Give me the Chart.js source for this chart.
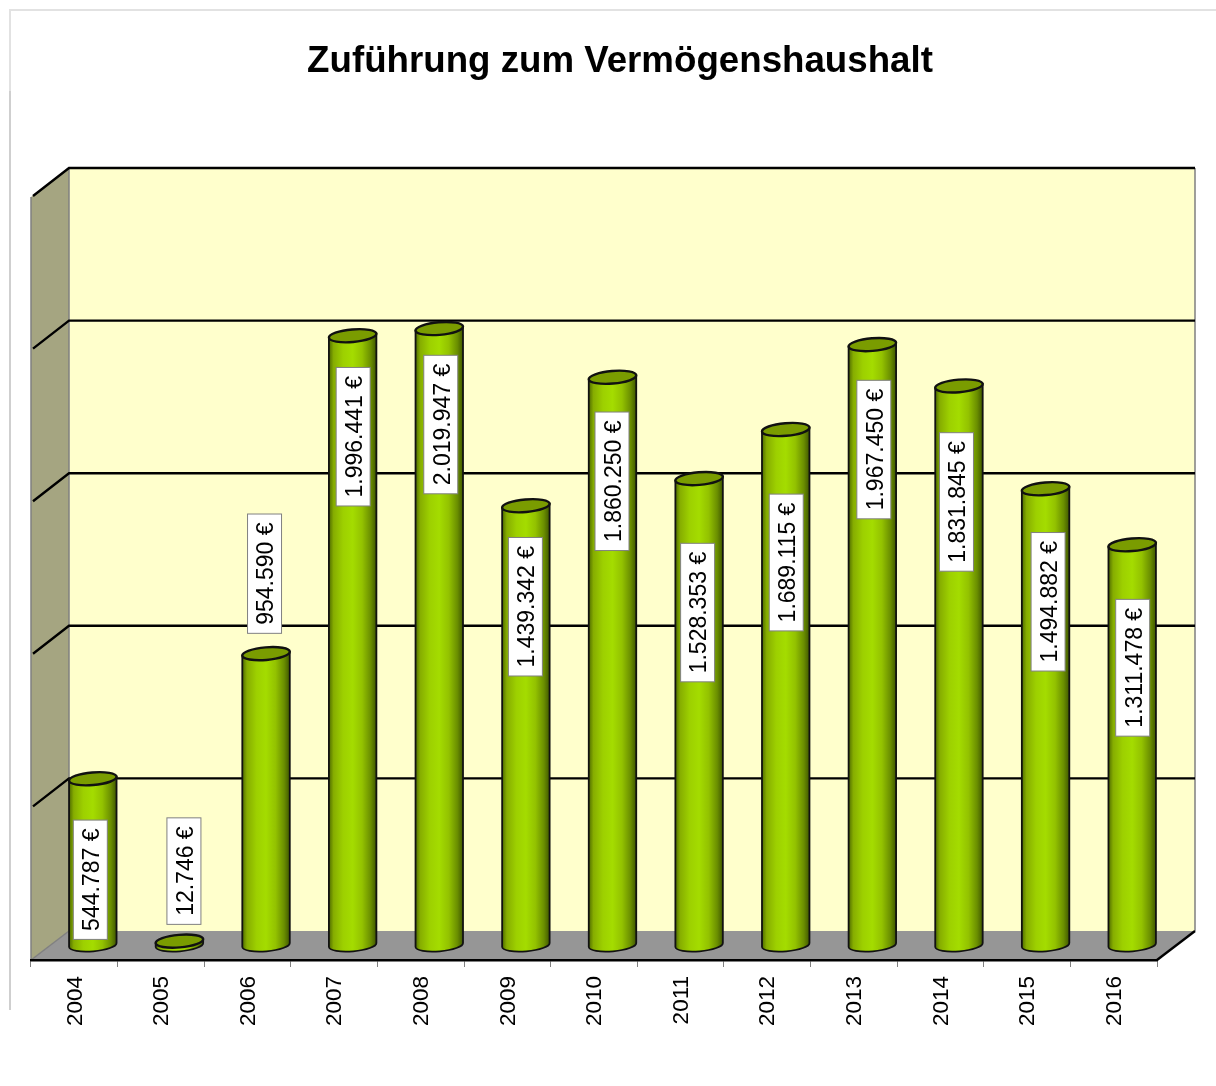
<!DOCTYPE html>
<html lang="de">
<head>
<meta charset="utf-8">
<title>Zuführung zum Vermögenshaushalt</title>
<script src="https://cdn.jsdelivr.net/npm/chart.js@4"></script>
<style>
  html, body { margin: 0; padding: 0; background: #fff; }
  canvas { display: block; }
</style>
</head>
<body>
<canvas id="grafico" width="1216" height="1086"></canvas>
<script>
const years = ["2004", "2005", "2006", "2007", "2008", "2009", "2010", "2011", "2012", "2013", "2014", "2015", "2016"];
const amounts = [544787, 12746, 954590, 1996441, 2019947, 1439342, 1860250, 1528353, 1689115, 1967450, 1831845, 1494882, 1311478];

// where each hand-placed label box sits, relative to the top of its bar
const labelShiftX = [-3, 4, -2, 0, 1, -1, -1, -2, 0, 1, -3, 2, 0];
const labelShiftY = [101, -70, -80, 101, 96, 101, 104, 134, 133, 105, 116, 113, 123];

const DEPTH_X = 38, DEPTH_Y = 29;
const MID_X = 18.5, MID_Y = 15;
const TILT = -0.085;
const FONT = '"Liberation Sans", Arial, sans-serif';

// cylinders instead of flat bars, half way into the floor depth
Chart.BarElement.prototype.draw = function (ctx) {
  const cx = this.x + MID_X, top = this.y - MID_Y, base = this.base - MID_Y;
  const rx = this.width / 2, ry = 6.3;
  const tipX = rx * Math.cos(TILT), tipY = rx * Math.sin(TILT);

  const grad = ctx.createLinearGradient(cx - rx, 0, cx + rx, 0);
  grad.addColorStop(0, "#4e6a00");
  grad.addColorStop(0.1, "#86ad00");
  grad.addColorStop(0.3, "#9dd000");
  grad.addColorStop(0.5, "#a4dc00");
  grad.addColorStop(0.7, "#93c200");
  grad.addColorStop(0.88, "#6a8e00");
  grad.addColorStop(1, "#3f5600");

  ctx.save();
  ctx.beginPath();
  ctx.moveTo(cx + tipX, top + tipY);
  ctx.lineTo(cx + tipX, base + tipY);
  ctx.ellipse(cx, base, rx, ry, TILT, 0, Math.PI);
  ctx.lineTo(cx - tipX, top - tipY);
  ctx.closePath();
  ctx.fillStyle = grad;
  ctx.fill();
  ctx.strokeStyle = "#111";
  ctx.lineWidth = 1.8;
  ctx.stroke();

  ctx.beginPath();
  ctx.ellipse(cx, top, rx, ry, TILT, 0, Math.PI * 2);
  ctx.fillStyle = this.options.backgroundColor;
  ctx.fill();
  ctx.lineWidth = 2.4;
  ctx.stroke();
  ctx.restore();
};

const room = {
  id: "room",
  afterLayout(chart) {
    // title sits a bit right of the canvas centre
    chart.titleBlock.left += 26;
    chart.titleBlock.right += 26;
  },
  beforeDraw(chart) {
    const { ctx, chartArea: a, scales } = chart;
    const y = scales.y;
    ctx.save();

    // frame left over from the original page
    ctx.fillStyle = "#e2e2e2";
    ctx.fillRect(10, 9, 1206, 2);
    ctx.fillRect(9, 9, 2, 82);
    ctx.fillStyle = "#cfcfcf";
    ctx.fillRect(9, 91, 2, 919);

    const backL = a.left + DEPTH_X, backR = a.right + DEPTH_X;
    const backT = a.top - DEPTH_Y, backB = a.bottom - DEPTH_Y;

    ctx.fillStyle = "#ffffcc";
    ctx.fillRect(backL, backT, backR - backL, backB - backT);

    ctx.fillStyle = "#a5a581";
    ctx.beginPath();
    ctx.moveTo(a.left, a.top);
    ctx.lineTo(backL, backT);
    ctx.lineTo(backL, backB);
    ctx.lineTo(a.left, a.bottom);
    ctx.closePath();
    ctx.fill();

    ctx.fillStyle = "#969696";
    ctx.beginPath();
    ctx.moveTo(a.left, a.bottom);
    ctx.lineTo(backL, backB);
    ctx.lineTo(backR, backB);
    ctx.lineTo(a.right, a.bottom);
    ctx.closePath();
    ctx.fill();

    ctx.strokeStyle = "#808080";
    ctx.lineWidth = 1.5;
    ctx.beginPath();
    ctx.moveTo(a.left, a.top);
    ctx.lineTo(a.left, a.bottom);
    ctx.lineTo(backL, backB);
    ctx.lineTo(backL, backT);
    ctx.moveTo(backR, backT);
    ctx.lineTo(backR, backB);
    ctx.stroke();

    ctx.strokeStyle = "#000";
    ctx.lineWidth = 2.4;
    y.getTicks().forEach(t => {
      if (t.value === 0) return;
      const py = y.getPixelForValue(t.value);
      ctx.beginPath();
      ctx.moveTo(a.left + 2, py - 1);
      ctx.lineTo(backL, py - DEPTH_Y);
      ctx.lineTo(backR, py - DEPTH_Y);
      ctx.stroke();
    });
    ctx.beginPath();
    ctx.moveTo(a.right, a.bottom);
    ctx.lineTo(backR, backB);
    ctx.stroke();
    ctx.restore();
  },
  afterDatasetsDraw(chart) {
    const { ctx } = chart;
    const bars = chart.getDatasetMeta(0).data;
    ctx.save();
    ctx.font = "23px " + FONT;
    ctx.textAlign = "center";
    ctx.textBaseline = "middle";
    bars.forEach((bar, i) => {
      const text = amounts[i].toLocaleString("de-DE") + " €";
      const len = ctx.measureText(text).width + 17;
      const cx = bar.x + 19 + labelShiftX[i];
      const cy = bar.y - MID_Y + labelShiftY[i];
      ctx.save();
      ctx.translate(cx, cy);
      ctx.rotate(-Math.PI / 2);
      ctx.fillStyle = "#fff";
      ctx.fillRect(-len / 2, -17, len, 34);
      ctx.strokeStyle = "#808080";
      ctx.lineWidth = 1;
      ctx.strokeRect(-len / 2, -17, len, 34);
      ctx.fillStyle = "#000";
      ctx.fillText(text, 0, 2.5);
      ctx.restore();
    });
    ctx.restore();
  }
};

new Chart(document.getElementById("grafico"), {
  type: "bar",
  data: {
    labels: years,
    datasets: [{
      data: amounts,
      backgroundColor: "#7a9c00",
      barPercentage: 1,
      categoryPercentage: 0.55,
      clip: false
    }]
  },
  options: {
    responsive: false,
    animation: false,
    layout: { padding: { left: 31, right: 59, top: 0, bottom: 0 } },
    plugins: {
      legend: { display: false },
      tooltip: { enabled: false },
      title: {
        display: true,
        text: "Zuführung zum Vermögenshaushalt",
        color: "#000",
        font: { family: FONT, size: 36.7, weight: "bold" },
        padding: { top: 39.5, bottom: 113.5 }
      }
    },
    scales: {
      x: {
        grid: { drawOnChartArea: false, tickLength: 7, tickColor: "#808080", tickWidth: 1 },
        border: { color: "#000", width: 2.4 },
        ticks: { color: "#000", font: { family: FONT, size: 22.5 }, minRotation: 90, maxRotation: 90, padding: 9, labelOffset: 1 },
        afterFit(scale) { scale.height = 126; }
      },
      y: {
        min: 0,
        max: 2500000,
        grid: { display: false },
        border: { display: false },
        ticks: { display: false, stepSize: 500000 },
        afterFit(scale) { scale.width = 0; }
      }
    }
  },
  plugins: [room]
});
</script>
</body>
</html>
